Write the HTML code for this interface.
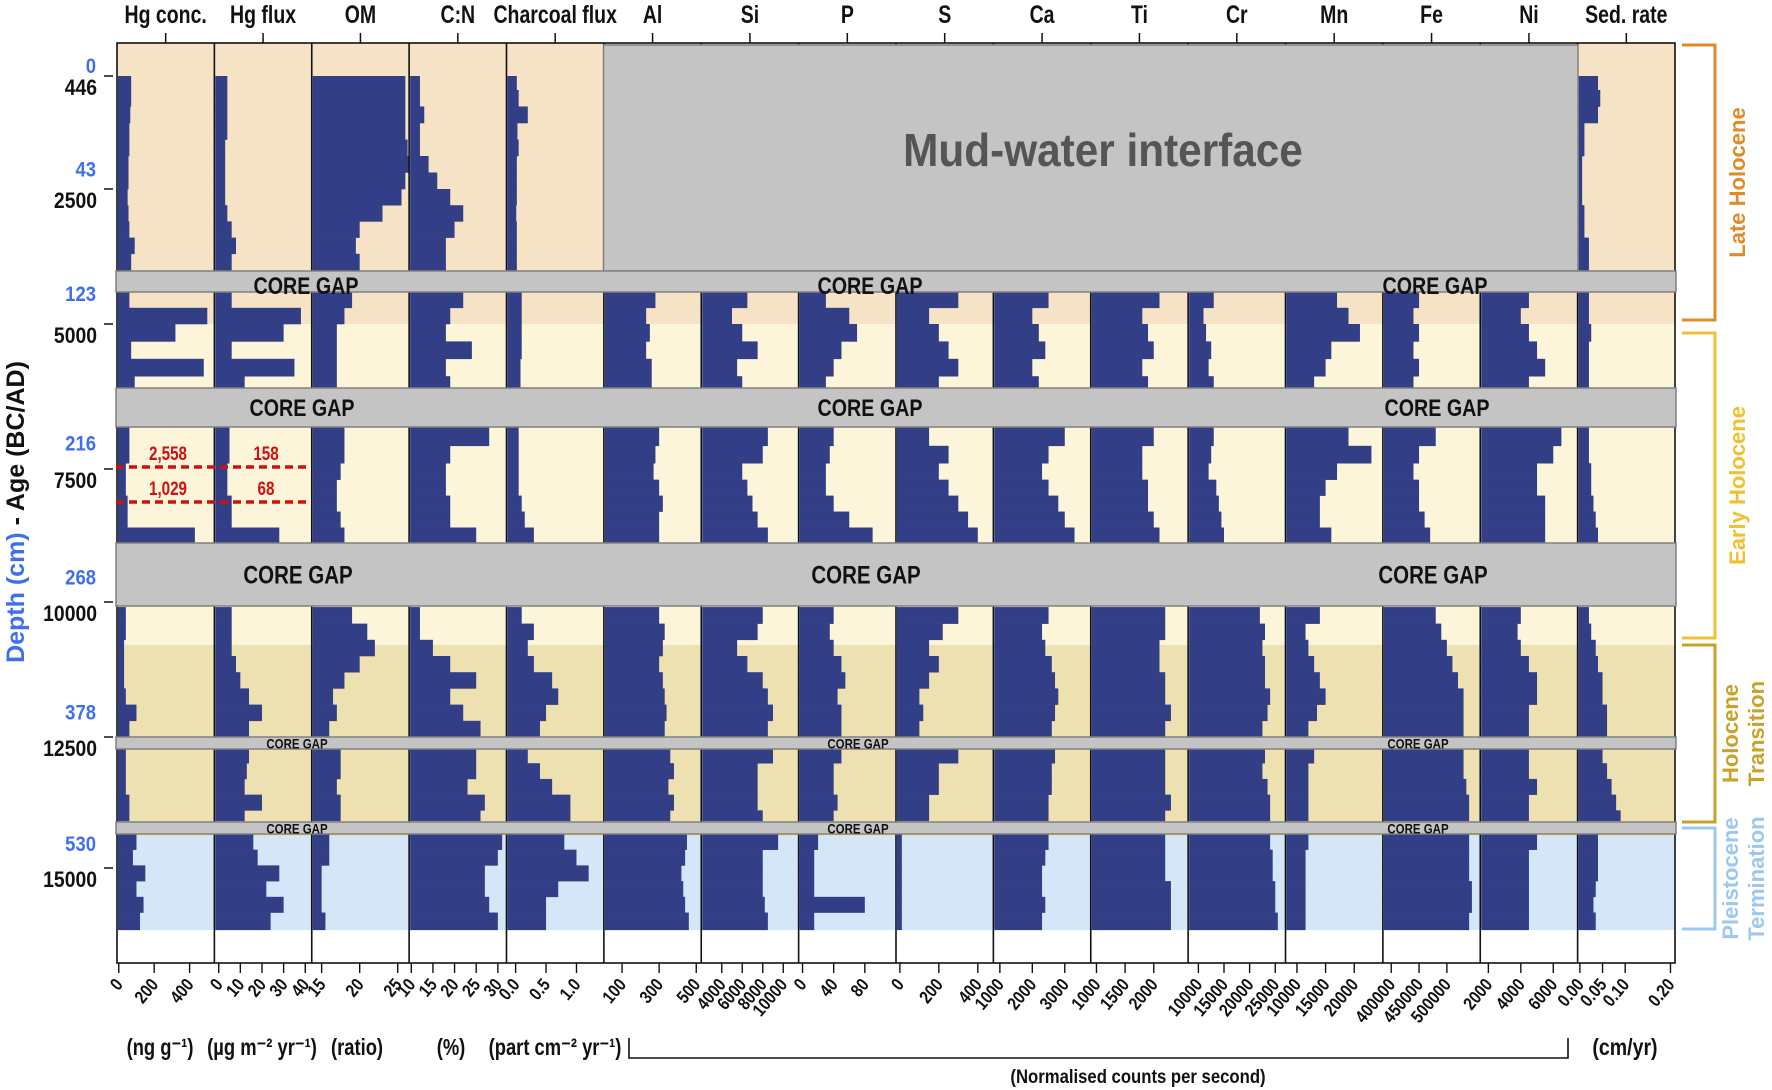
<!DOCTYPE html>
<html><head><meta charset="utf-8">
<style>
html,body{margin:0;padding:0;background:#fff;}
svg{display:block;font-family:"Liberation Sans",sans-serif;}
</style></head>
<body>
<svg id="chart" width="1772" height="1090" viewBox="0 0 1772 1090" xmlns="http://www.w3.org/2000/svg"></svg>
<script>
// ---- data ----
const panelNames = ["Hg conc.","Hg flux","OM","C:N","Charcoal flux","Al","Si","P","S","Ca","Ti","Cr","Mn","Fe","Ni","Sed. rate"];
const tickLabels = [["0","200","400"],["0","10","20","30","40"],["15","20","25"],["10","15","20","25","30"],["0.0","0.5","1.0"],["100","300","500"],["4000","6000","8000","10000"],["0","40","80"],["0","200","400"],["1000","2000","3000"],["1000","1500","2000"],["10000","15000","20000","25000"],["10000","15000","20000"],["400000","450000","500000"],["2000","4000","6000"],["0.00","0.05","0.10","0.20"]];
const domainMin = [-10,-2,13.7,9.5,-0.15,2,2000,-5,-20,800,900,8000,8000,385000,1500,-0.005];
const domainMax = [540,43,26.5,32,1.45,527,11500,120,480,3800,2600,27000,25000,560000,7500,0.21];
const ageTicks = [446,2500,5000,7500,10000,12500,15000];
const depthLabels = ["0","43","123","216","268","378","530"];
const depthAges = [80,2350,4650,7250,9750,12250,14750];
// sample ages per segment
const segA = [446,700,1000,1300,1600,1900,2200,2500,2800,3100,3400,3700];
const segB = [4407,4700,5000,5300,5600,5900];
const segC = [6776,7100,7400,7700,8000,8300,8600];
const segD = [10094,10400,10700,11000,11300,11600,11900,12200];
const segE = [12710,13000,13300,13600,13900];
const segF = [14350,14650,14950,15250,15550,15850];
const segEnds = [4018,6103,8929,12500,14100,16180];
// values per panel per segment (A..F); null = not measured
const hgConc = [[70,70,65,60,60,55,55,50,55,60,90,70],[60,500,320,70,480,90],[60,60,40,40,50,50,430],[40,40,30,30,30,40,100,60],[40,40,40,60,60],[100,80,150,100,140,120]];
const hgFlux = [[4,4,4,4,3,3,3,3,4,6,8,6],[6,38,30,6,35,12],[5,5,4,4,6,6,28],[6,6,6,8,10,14,20,14],[14,13,12,20,12],[16,18,28,22,30,24]];
const om = [[26,26,26,26,26.3,26.5,26,25.5,23,20,19.5,20],[19,18,17,17,17,17],[18,18,17.5,17,17,17.5,18],[19,21,22,20,18,16.5,17,16],[17.5,17.5,17,17.5,17.5],[16,16,15,15,15,15.5]];
const cn = [[12,12,13,12,12,14,16,19,22,20,18,18],[22,19,18,24,18,19],[28,19,18,18,19,19,25],[12,12,15,19,25,19,22,26],[25,25,23,27,26],[31,30,27,27,28,30]];
const charcoal = [[0.02,0.05,0.2,0.03,0.05,0.02,0.02,0.02,0.01,0.02,0.02,0.02],[0.1,0.1,0.1,0.1,0.08,0.08],[0.05,0.05,0.05,0.05,0.1,0.15,0.3],[0.1,0.3,0.2,0.3,0.6,0.7,0.5,0.4],[0.2,0.4,0.6,0.9,0.9],[0.8,1.0,1.2,0.7,0.5,0.5]];
const al = [null,[280,230,250,230,260,260],[300,280,270,300,320,300,300],[300,330,320,300,320,330,340,330],[360,380,350,380,360],[450,440,420,430,440,460]];
const si = [null,[6500,5000,6000,7500,5500,6000],[8500,8000,6000,6500,7000,7500,8500],[8000,7500,5500,6500,8000,8500,9000,8500],[9000,7500,7500,7500,8000],[9500,8000,8000,8000,8200,8500]];
const p = [null,[30,60,70,50,40,30],[40,35,30,30,40,60,90],[40,35,40,50,55,45,50,50],[50,40,40,45,40],[20,15,15,15,80,15]];
const s = [null,[300,150,200,250,300,200],[150,250,200,250,300,350,400],[300,220,150,200,150,100,120,100],[300,200,200,150,150],[10,10,10,10,10,10]];
const ca = [null,[2500,2000,2200,2400,2000,2200],[3000,2500,2300,2500,2800,3000,3300],[2500,2300,2400,2600,2700,2800,2700,2600],[2700,2600,2600,2500,2500],[2500,2400,2300,2300,2400,2300]];
const ti = [null,[2100,1800,1900,2000,1800,1900],[2000,1800,1800,1900,1900,2000,2100],[2200,2200,2100,2100,2200,2200,2300,2200],[2200,2200,2200,2300,2200],[2200,2200,2200,2300,2300,2300]];
const cr = [null,[13000,11000,11500,12500,12000,13000],[13000,12500,12000,13500,14000,14500,15000],[22000,23000,22500,23000,23000,24000,23500,22500],[23000,22500,23500,24000,24000],[24000,24500,24500,25000,25000,25500]];
const mn = [null,[17000,19000,21000,16000,15000,13000],[19000,23000,17000,15000,14000,14000,16000],[14000,11500,12000,13000,14000,15000,13500,12000],[13000,12000,12000,12000,12000],[12000,11500,11500,11500,11500,11500]];
const fe = [null,[450000,440000,450000,440000,450000,440000],[480000,450000,440000,450000,450000,460000,470000],[480000,490000,500000,510000,520000,530000,530000,530000],[530000,530000,535000,540000,540000],[540000,540000,540000,545000,545000,540000]];
const ni = [null,[4500,4000,4500,5000,5500,4500],[6500,6000,5000,5000,5500,5500,5500],[4000,3800,4000,4500,5000,5000,4500,4500],[4500,4500,5000,4500,4500],[5000,4500,4500,4500,4500,4500]];
const sedRate = [[0.04,0.045,0.04,0.01,0.01,0.005,0.005,0.005,0.01,0.01,0.02,0.02],[0.02,0.02,0.025,0.02,0.02,0.02],[0.02,0.02,0.025,0.025,0.03,0.035,0.04],[0.02,0.025,0.035,0.04,0.05,0.05,0.06,0.06],[0.05,0.06,0.07,0.08,0.09],[0.04,0.04,0.04,0.035,0.03,0.035]];
const tickValues = [[0,200,400],[0,10,20,30,40],[15,20,25],[10,15,20,25,30],[0,0.5,1.0],[100,300,500],[4000,6000,8000,10000],[0,40,80],[0,200,400],[1000,2000,3000],[1000,1500,2000],[10000,15000,20000,25000],[10000,15000,20000],[400000,450000,500000],[2000,4000,6000],[0,0.05,0.10,0.20]];
const units = ["(ng g\u207B\u00B9)","(\u00B5g m\u207B\u00B2 yr\u207B\u00B9)","(ratio)","(%)","(part cm\u207B\u00B2 yr\u207B\u00B9)"];

// ---- layout ----
const svg = document.getElementById('chart');
const NS = 'http://www.w3.org/2000/svg';
const X0 = 117, X1 = 1675, Y0 = 43, Y1 = 963;
const PW = (X1 - X0) / 16;
const tickY = [76,189,324,469,602,737,868];
function yScale(age){
  let i = 0;
  while (i < ageTicks.length - 2 && age > ageTicks[i+1]) i++;
  const a0 = ageTicks[i], a1 = ageTicks[i+1];
  return tickY[i] + (age - a0) / (a1 - a0) * (tickY[i+1] - tickY[i]);
}
function xScale(pi, v){
  const l = X0 + pi * PW;
  return l + (v - domainMin[pi]) / (domainMax[pi] - domainMin[pi]) * PW;
}
function mk(tag, attrs, name, parent){
  const e = document.createElementNS(NS, tag);
  for (const k in attrs) e.setAttribute(k, attrs[k]);
  
  
  (parent || svg).appendChild(e);
  return e;
}
function txt(str, attrs, name, parent){ const e = mk('text', attrs, name, parent); e.textContent = str; return e; }
// narrow (condensed) text: translate + horizontal squeeze
function ntxt(str, x, y, attrs, name, rot, sx){
  const a = Object.assign({x:0,y:0,transform:`translate(${x} ${y})${rot ? ' rotate(' + rot + ')' : ''} scale(${sx || 0.8} 1)`}, attrs);
  return txt(str, a, name);
}

// background zones
mk('rect',{x:X0,y:Y0,width:X1-X0,height:324-Y0,fill:'#f6e2c5'},'late-holocene-band');
mk('rect',{x:X0,y:324,width:X1-X0,height:645-324,fill:'#fcf5da'},'early-holocene-band');
mk('rect',{x:X0,y:645,width:X1-X0,height:836-645,fill:'#ede1b1'},'holocene-transition-band');
mk('rect',{x:X0,y:836,width:X1-X0,height:930-836,fill:'#d5e6f8'},'pleistocene-band');

// bars
const allSeries = [hgConc,hgFlux,om,cn,charcoal,al,si,p,s,ca,ti,cr,mn,fe,ni,sedRate];
const segs = [segA,segB,segC,segD,segE,segF];
const barG = mk('g',{},'bars');
allSeries.forEach((ser, pi) => {
  ser.forEach((vals, si2) => {
    if (!vals) return;
    const ages = segs[si2];
    vals.forEach((v, k) => {
      const a0 = ages[k];
      const a1 = k < ages.length - 1 ? ages[k+1] : segEnds[si2];
      const ya = yScale(a0), yb = yScale(a1);
      const xl = X0 + pi * PW + 1;
      const xr = xScale(pi, v);
      const r = document.createElementNS(NS,'rect');
      r.setAttribute('x', xl); r.setAttribute('y', ya);
      r.setAttribute('width', Math.max(0.5, xr - xl)); r.setAttribute('height', yb - ya + 0.3);
      r.setAttribute('fill', '#323f87');
      
      
      barG.appendChild(r);
    });
  });
});

// panel separators
for (let i = 1; i < 16; i++){
  const x = X0 + i * PW;
  mk('line',{x1:x,y1:Y0,x2:x,y2:Y1,stroke:'#111','stroke-width':1.6},'panel-divider');
}
mk('rect',{x:X0,y:Y0,width:X1-X0,height:Y1-Y0,fill:'none',stroke:'#111','stroke-width':1.6},'plot-frame');

// mud-water interface (drawn over dividers)
mk('rect',{x:603.5,y:45,width:1578-603.5,height:271-45,fill:'#c4c4c4',stroke:'#808080','stroke-width':1.5},'mud-water-interface-box');
ntxt('Mud-water interface',1103,166,{'text-anchor':'middle','font-size':46,'font-weight':'bold',fill:'#555'},'mud-water-interface-label',0,0.92);

// core gaps
const gaps = [[271,292,24],[388,427,24],[543,606,25],[737,749,14],[822,834,14]];
const gapTextX = [[306,870,1435],[302,870,1437],[298,866,1433],[297,858,1418],[297,858,1418]];
gaps.forEach((g, gi) => {
  mk('rect',{x:X0-1,y:g[0],width:X1-X0+2,height:g[1]-g[0],fill:'#c4c4c4',stroke:'#808080','stroke-width':1.5},'core-gap');
  const yy = gi >= 3 ? g[1] - 0.5 : (gi === 0 ? g[1]+2 : (g[0]+g[1])/2 + g[2]*0.36);
  gapTextX[gi].forEach(x => ntxt('CORE GAP',x,yy,{'text-anchor':'middle','font-size':g[2],'font-weight':'bold',fill:'#111'},'core-gap-label',0,0.82));
});

// red dashed lines
[[467,'2,558','158'],[502,'1,029','68']].forEach(d => {
  mk('line',{x1:116,y1:d[0],x2:311,y2:d[0],stroke:'#d01010','stroke-width':3.5,'stroke-dasharray':'8,5'},'threshold-line');
  ntxt(d[1],168,d[0]-7,{'text-anchor':'middle','font-size':19,'font-weight':'bold',fill:'#d01010'},'threshold-value');
  ntxt(d[2],266,d[0]-7,{'text-anchor':'middle','font-size':19,'font-weight':'bold',fill:'#d01010'},'threshold-value');
});

// top labels and ticks
panelNames.forEach((n, i) => {
  const cx = X0 + (i + 0.5) * PW;
  ntxt(n,cx,23,{'text-anchor':'middle','font-size':25,'font-weight':'bold',fill:'#111'},'panel-title',0,0.78);
  mk('line',{x1:cx,y1:33,x2:cx,y2:Y0,stroke:'#111','stroke-width':1.5},'top-tick');
});

// y axis
ageTicks.forEach((a, i) => {
  const y = yScale(a);
  mk('line',{x1:104,y1:y,x2:113,y2:y,stroke:'#111','stroke-width':1.5},'y-tick');
  ntxt(String(a),97,y+19,{'text-anchor':'end','font-size':22,'font-weight':'bold',fill:'#111'},'age-label',0,0.88);
});
depthAges.forEach((a, i) => {
  const y = i === 0 ? 73 : yScale(a) - 4;
  ntxt(depthLabels[i],96,y,{'text-anchor':'end','font-size':21,'font-weight':'bold',fill:'#3f6ff0'},'depth-label',0,0.88);
});
const yt = txt('',{transform:'translate(24,512) rotate(-90)','text-anchor':'middle','font-size':25,'font-weight':'bold'},'y-axis-title');
const t1 = document.createElementNS(NS,'tspan'); t1.setAttribute('fill','#3f6ff0'); t1.textContent='Depth (cm)'; yt.appendChild(t1);
const t2 = document.createElementNS(NS,'tspan'); t2.setAttribute('fill','#111'); t2.textContent=' - Age (BC/AD)'; yt.appendChild(t2);

// bottom ticks
tickValues.forEach((tv, pi) => {
  tv.forEach((v, k) => {
    const x = xScale(pi, v);
    mk('line',{x1:x,y1:Y1,x2:x,y2:Y1+10,stroke:'#111','stroke-width':1.4},'x-tick');
    ntxt(tickLabels[pi][k],x+5,Y1+22,{'text-anchor':'end','font-size':18,'font-weight':'bold',fill:'#111'},'x-tick-label',-50,0.85);
  });
});

// units
const unitX = [160,262,357,451,555];
units.forEach((u, i) => ntxt(u,unitX[i],1055,{'text-anchor':'middle','font-size':23,'font-weight':'bold',fill:'#111'},'unit-label',0,0.8));
ntxt('(cm/yr)',1625,1055,{'text-anchor':'middle','font-size':23,'font-weight':'bold',fill:'#111'},'unit-label',0,0.85);
mk('polyline',{points:'629,1038 629,1058 1568,1058 1568,1038',fill:'none',stroke:'#111','stroke-width':1.6},'normalised-bracket');
ntxt('(Normalised counts per second)',1138,1083,{'text-anchor':'middle','font-size':19,'font-weight':'bold',fill:'#111'},'normalised-label',0,0.88);

// right brackets
const brackets = [[45,320,'#e08a2a',['Late Holocene']],[333,638,'#f0c030',['Early Holocene']],[645,822,'#c9a227',['Holocene','Transition']],[828,929,'#9cc8f0',['Pleistocene','Termination']]];
brackets.forEach(b => {
  mk('polyline',{points:`1682,${b[0]} 1715,${b[0]} 1715,${b[1]} 1682,${b[1]}`,fill:'none',stroke:b[2],'stroke-width':3},'period-bracket');
  const cy = (b[0] + b[1]) / 2;
  b[3].forEach((line, li) => {
    const x = b[3].length === 1 ? 1745 : 1738 + li * 26;
    txt(line,{x:x,y:cy,'text-anchor':'middle','font-size':22,'font-weight':'bold',fill:b[2],transform:`rotate(-90 ${x} ${cy})`},'period-label');
  });
});
</script>
</body></html>
